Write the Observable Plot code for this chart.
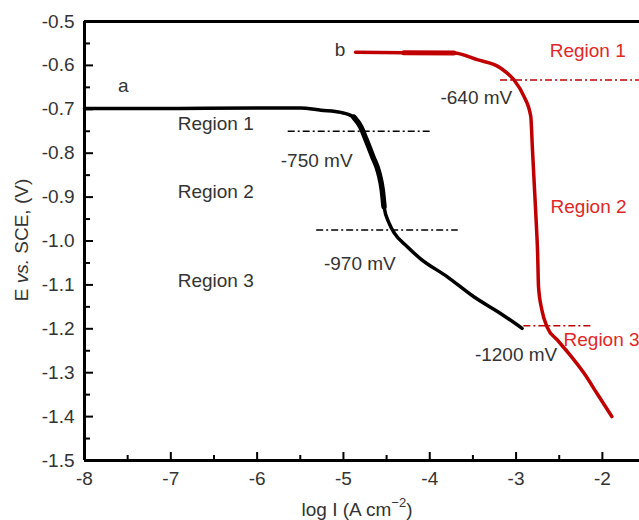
<!DOCTYPE html>
<html>
<head>
<meta charset="utf-8">
<script src="https://cdn.jsdelivr.net/npm/d3@7"></script>
<script src="https://cdn.jsdelivr.net/npm/@observablehq/plot@0.6"></script>
<style>
  html, body { margin: 0; padding: 0; background: #fff; }
  #chart { width: 639px; height: 520px; overflow: hidden; }
</style>
</head>
<body>
<div id="chart"></div>
<script>
// Curve a (black)
const aLogI = [-8.0, -7.0, -6.0, -5.5, -5.26, -5.03, -4.88, -4.80, -4.74, -4.66, -4.59, -4.55, -4.53, -4.47, -4.41, -4.26, -4.11, -3.80, -3.49, -3.18, -2.93];
const aE    = [-0.698, -0.698, -0.697, -0.697, -0.702, -0.707, -0.718, -0.740, -0.768, -0.808, -0.845, -0.884, -0.922, -0.960, -0.982, -1.013, -1.040, -1.081, -1.127, -1.165, -1.199];
// Curve b (red)
const bLogI = [-4.86, -4.3, -3.72, -3.45, -3.18, -3.03, -2.91, -2.83, -2.81, -2.79, -2.77, -2.75, -2.74, -2.70, -2.64, -2.52, -2.39, -2.21, -2.06, -1.89];
const bE    = [-0.570, -0.571, -0.572, -0.587, -0.606, -0.632, -0.670, -0.716, -0.792, -0.868, -0.944, -1.030, -1.104, -1.158, -1.196, -1.226, -1.256, -1.302, -1.348, -1.400];
// Noisy (visually thicker) stretches of the traces, as logI ranges
const aNoisy = [-4.88, -4.53];
const bNoisy = [-4.3, -3.72];

// Dash-dot reference lines
const refE     = [-0.750, -0.975, -0.633, -1.193];
const refFrom  = [-5.64, -5.31, -3.18, -2.91];
const refTo    = [-3.99, -3.67, -1.50, -2.10];
const refColor = ["black", "black", "red", "red"];

// Text annotations
const labText  = ["a", "b", "Region 1", "Region 2", "Region 3", "-750 mV", "-970 mV", "-640 mV", "-1200 mV", "Region 1", "Region 2", "Region 3"];
const labLogI  = [-7.55, -5.04, -6.48, -6.48, -6.48, -5.31, -4.81, -3.46, -3.00, -2.17, -2.16, -2.45];
const labE     = [-0.646, -0.564, -0.733, -0.888, -1.091, -0.817, -1.053, -0.673, -1.260, -0.568, -0.922, -1.226];
const labColor = ["black", "black", "black", "black", "black", "black", "black", "black", "black", "red", "red", "red"];
const labAnchor= ["middle","middle","middle","middle","middle","middle","middle","middle","middle","middle","middle","start"];

// Ticks
const xMajor = [-8, -7, -6, -5, -4, -3, -2];
const xMinor = [-7.5, -6.5, -5.5, -4.5, -3.5, -2.5];
const yMajor = [-0.5, -0.6, -0.7, -0.8, -0.9, -1.0, -1.1, -1.2, -1.3, -1.4, -1.5];
const yMinor = [-0.55, -0.65, -0.75, -0.85, -0.95, -1.05, -1.15, -1.25, -1.35, -1.45];

const TXT = "#333333";
const RED_LINE = "#c00000";
const RED_TEXT = "#e02828";
const FS = 19;

const curveA = aLogI.map((x, i) => ({x, y: aE[i]}));
const curveB = bLogI.map((x, i) => ({x, y: bE[i]}));
const noisyA = curveA.filter(d => d.x >= aNoisy[0] && d.x <= aNoisy[1]);
const noisyB = curveB.filter(d => d.x >= bNoisy[0] && d.x <= bNoisy[1]);
const refs = refE.map((y, i) => ({y, x1: refFrom[i], x2: refTo[i], c: refColor[i] === "red" ? RED_LINE : "#000"}));
const labs = labText.map((t, i) => ({t, x: labLogI[i], y: labE[i], c: labColor[i] === "red" ? RED_TEXT : TXT, a: labAnchor[i]}));

const plot = Plot.plot({
  width: 639,
  height: 520,
  marginLeft: 84,
  marginRight: 0,
  marginTop: 21,
  marginBottom: 60,
  style: {fontFamily: "'Liberation Sans', Arial, sans-serif", fontSize: FS + "px", color: TXT, background: "#fff"},
  x: {domain: [-8, -1.57]},
  y: {domain: [-1.5, -0.5]},
  marks: [
    Plot.axisX(xMajor, {tickSize: -8, tickPadding: 19, strokeWidth: 2, stroke: "#000", fill: TXT, fontSize: FS, tickFormat: d => String(d), label: null}),
    Plot.axisX(xMinor, {tickSize: -5, tickPadding: 19, strokeWidth: 2, stroke: "#000", tickFormat: () => "", label: null}),
    Plot.axisY(yMajor, {tickSize: -9, tickPadding: 19, strokeWidth: 2, stroke: "#000", fill: TXT, fontSize: FS, tickFormat: d => d.toFixed(1), label: null}),
    Plot.axisY(yMinor, {tickSize: -6, tickPadding: 19, strokeWidth: 2, stroke: "#000", tickFormat: () => "", label: null}),
    Plot.ruleY([-0.5, -1.5], {stroke: "#000", strokeWidth: 3}),
    Plot.ruleX([-8], {stroke: "#000", strokeWidth: 3}),
    Plot.ruleY(refs, {y: "y", x1: "x1", x2: "x2", stroke: "c", strokeWidth: 1.5, strokeDasharray: "7,3,2,3"}),
    Plot.line(curveA, {x: "x", y: "y", stroke: "#000", strokeWidth: 3.5, curve: "monotone-x"}),
    Plot.line(noisyA, {x: "x", y: "y", stroke: "#000", strokeWidth: 5.5, curve: "monotone-x"}),
    Plot.line(curveB, {x: "x", y: "y", stroke: RED_LINE, strokeWidth: 3.5, curve: "monotone-x"}),
    Plot.line(noisyB, {x: "x", y: "y", stroke: RED_LINE, strokeWidth: 5, curve: "monotone-x"}),
    Plot.text(labs.filter(d => d.a === "middle"), {x: "x", y: "y", text: "t", fill: "c", textAnchor: "middle", fontSize: FS}),
    Plot.text(labs.filter(d => d.a === "start"), {x: "x", y: "y", text: "t", fill: "c", textAnchor: "start", fontSize: FS})
  ]
});

const svg = d3.select(plot);
// Y axis title
const yt = svg.append("text")
  .attr("transform", "translate(28,240) rotate(-90)")
  .attr("text-anchor", "middle")
  .attr("fill", TXT)
  .attr("font-size", FS);
yt.append("tspan").text("E ");
yt.append("tspan").attr("font-style", "italic").text("vs.");
yt.append("tspan").text(" SCE, (V)");
// X axis title
const xt = svg.append("text")
  .attr("x", 357)
  .attr("y", 516)
  .attr("text-anchor", "middle")
  .attr("fill", TXT)
  .attr("font-size", FS);
xt.append("tspan").text("log I (A cm");
xt.append("tspan").attr("dy", -9).attr("font-size", 13).text("\u22122");
xt.append("tspan").attr("dy", 9).text(")");

document.getElementById("chart").appendChild(plot);
</script>
</body>
</html>
